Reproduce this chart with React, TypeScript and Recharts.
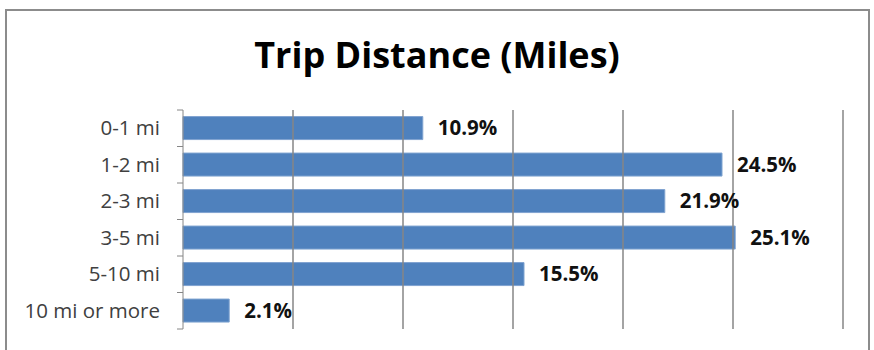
import React from "react";
import {
  BarChart,
  Bar,
  XAxis,
  YAxis,
  ReferenceLine,
  LabelList,
} from "recharts";

// chart values
const categories = ["0-1 mi", "1-2 mi", "2-3 mi", "3-5 mi", "5-10 mi", "10 mi or more"];
const shares = [10.9, 24.5, 21.9, 25.1, 15.5, 2.1];
const gridValues = [5, 10, 15, 20, 25, 30];

const data = categories.map((name, i) => ({ name, share: shares[i] }));

const FONT = "'Open Sans', 'Liberation Sans', sans-serif";
const BAND = 219 / categories.length; // plot height / rows

// category label plus the small tick marks at band boundaries
const CategoryTick = (props: any) => {
  const { x, y, payload, index } = props;
  const last = index === categories.length - 1;
  return (
    <g>
      <text
        x={x - 23}
        y={y}
        dy={7}
        textAnchor="end"
        fontSize={20.5}
        fontFamily={FONT}
        fill="#404040"
      >
        {payload.value}
      </text>
      <line x1={x - 6} x2={x} y1={y - BAND / 2} y2={y - BAND / 2} stroke="#868686" />
      {last && <line x1={x - 6} x2={x} y1={y + BAND / 2} y2={y + BAND / 2} stroke="#868686" />}
    </g>
  );
};

export default function App() {
  return (
    <div style={{ position: "absolute", left: 0, top: 0, width: 874, height: 350, background: "#fff" }}>
      {/* outer chart frame */}
      <div
        style={{
          position: "absolute",
          left: 5,
          top: 9,
          width: 861,
          height: 350,
          border: "2px solid #8c8c8c",
          borderBottom: "none",
        }}
      />
      <div
        style={{
          position: "absolute",
          left: 0,
          top: 30,
          width: 874,
          textAlign: "center",
          fontFamily: FONT,
          fontWeight: 700,
          fontSize: 36,
          color: "#000",
          lineHeight: "49px",
        }}
      >
        Trip Distance (Miles)
      </div>
      <div style={{ position: "absolute", left: 0, top: 0 }}>
        <BarChart
          width={874}
          height={350}
          data={data}
          layout="vertical"
          margin={{ top: 110, right: 31, bottom: 21, left: 0 }}
          barCategoryGap="18%"
        >
          <XAxis type="number" domain={[0, 30]} ticks={[0, ...gridValues]} hide />
          <YAxis
            type="category"
            dataKey="name"
            width={183}
            tickLine={false}
            tickSize={0}
            tickMargin={0}
            axisLine={{ stroke: "#868686" }}
            tick={<CategoryTick />}
            interval={0}
          />
          {gridValues.map((v) => (
            <ReferenceLine key={v} x={v} stroke="#868686" strokeWidth={1.5} />
          ))}
          <Bar dataKey="share" fill="#4F81BD" stroke="#7fa3d0" strokeWidth={1} isAnimationActive={false}>
            <LabelList
              dataKey="share"
              position="right"
              offset={15}
              formatter={(v: any) => `${v}%`}
              fontFamily={FONT}
              fontWeight={700}
              fontSize={20.5}
              fill="#111"
            />
          </Bar>
        </BarChart>
      </div>
    </div>
  );
}
